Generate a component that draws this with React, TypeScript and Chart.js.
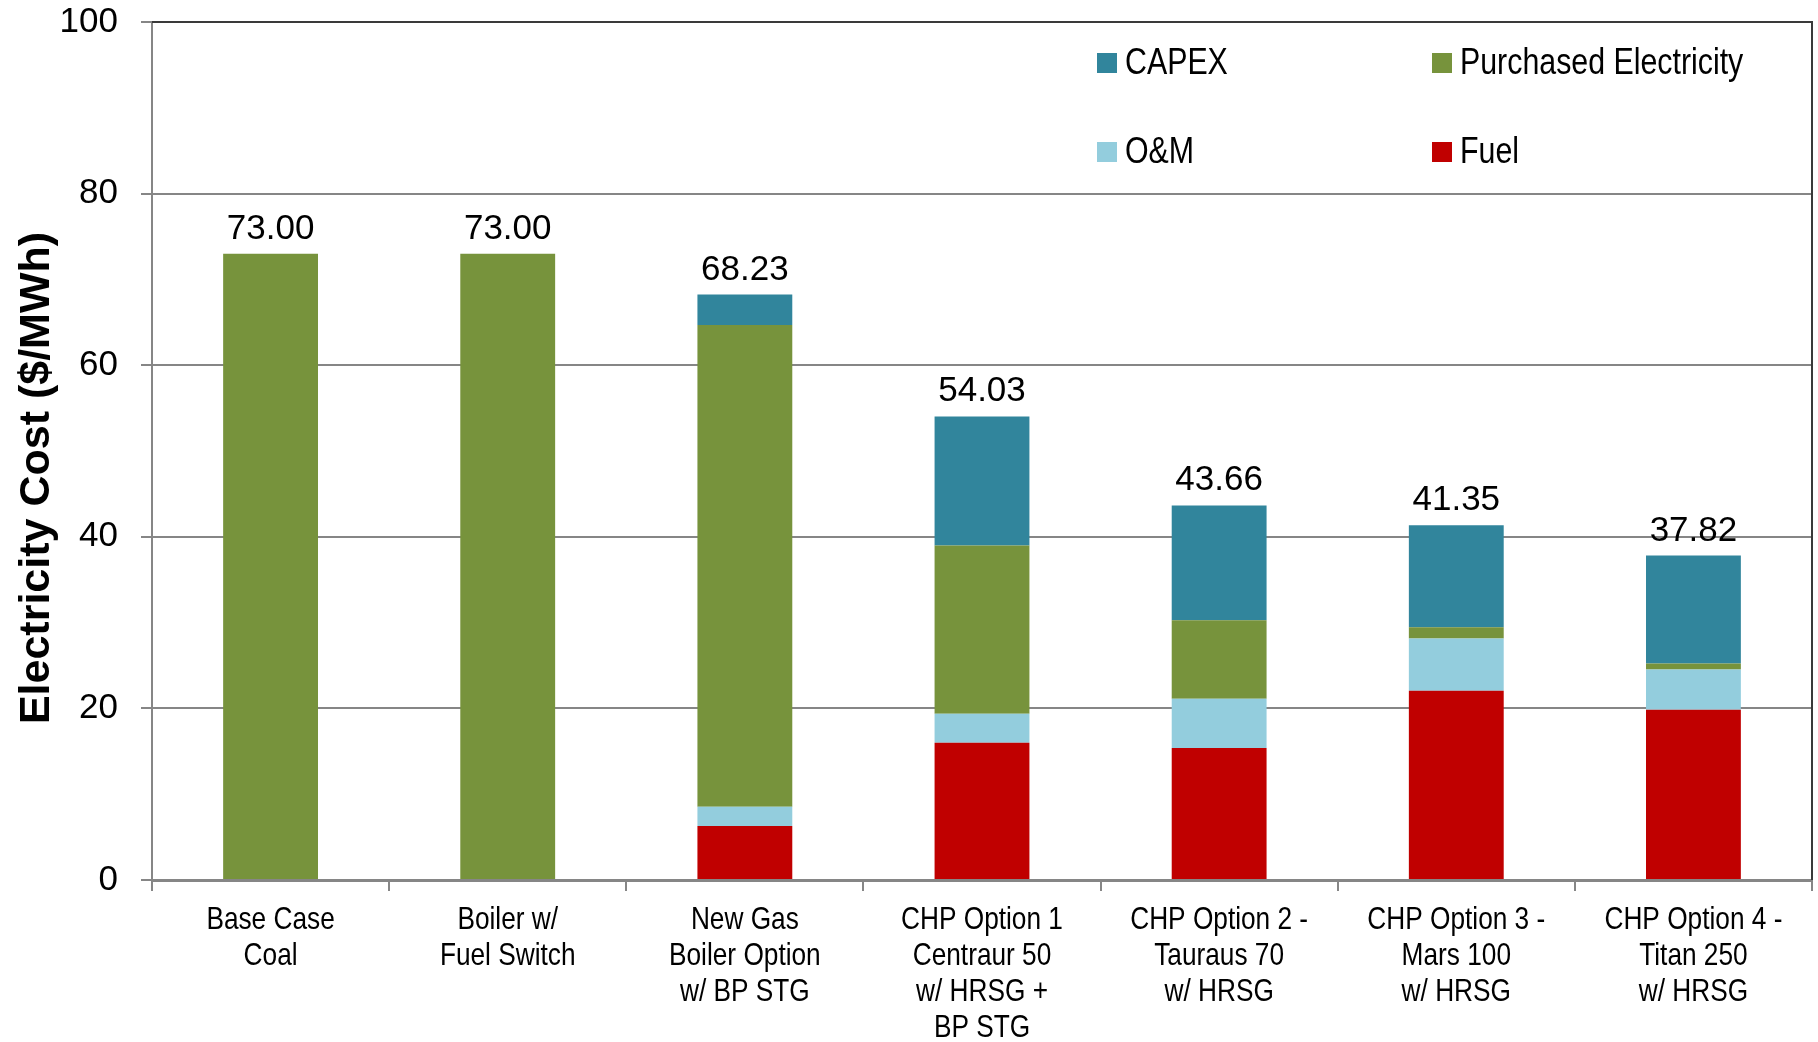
import React, { useEffect, useRef } from 'react';
import { Chart, registerables } from 'chart.js';

Chart.register(...registerables);

const categories: string[][] = [
  ['Base Case', 'Coal'],
  ['Boiler w/', 'Fuel Switch'],
  ['New Gas', 'Boiler Option', 'w/ BP STG'],
  ['CHP Option 1', 'Centraur 50', 'w/ HRSG +', 'BP STG'],
  ['CHP Option 2 -', 'Tauraus 70', 'w/ HRSG'],
  ['CHP Option 3 -', 'Mars 100', 'w/ HRSG'],
  ['CHP Option 4 -', 'Titan 250', 'w/ HRSG'],
];

const fuel = [0, 0, 6.3, 16.0, 15.39, 22.07, 19.84];
const om = [0, 0, 2.23, 3.39, 5.74, 6.09, 4.69];
const purchased = [73, 73, 56.15, 19.59, 9.14, 1.29, 0.7];
const capex = [0, 0, 3.55, 15.05, 13.39, 11.9, 12.59];
const totals = [73.0, 73.0, 68.23, 54.03, 43.66, 41.35, 37.82];

const legendOrder = ['CAPEX', 'Purchased Electricity', 'O&M', 'Fuel'];

const SANS = '"Liberation Sans", Arial, sans-serif';
const NARROW_SCALE = 0.82;
const GRID = '#868686';

export default function App() {
  const ref = useRef<HTMLCanvasElement | null>(null);

  useEffect(() => {
    document.body.style.margin = '0';
    document.body.style.overflow = 'hidden';
    const canvas = ref.current;
    if (!canvas) return;

    const narrowText = (ctx: any, text: string, x: number, y: number) => {
      ctx.save();
      ctx.translate(x, y);
      ctx.scale(NARROW_SCALE, 1);
      ctx.fillText(text, 0, 0);
      ctx.restore();
    };

    const extras = {
      id: 'extras',
      afterDraw(chart: any) {
        const { ctx, chartArea } = chart;
        const xs = chart.scales.x;
        const ys = chart.scales.y;
        ctx.save();
        // dark top and right frame
        ctx.strokeStyle = '#3a3a3a';
        ctx.lineWidth = 2;
        ctx.beginPath();
        ctx.moveTo(chartArea.left, chartArea.top);
        ctx.lineTo(chartArea.right, chartArea.top);
        ctx.lineTo(chartArea.right, chartArea.bottom);
        ctx.stroke();

        // total labels
        ctx.fillStyle = '#000';
        ctx.font = `35px ${SANS}`;
        ctx.textAlign = 'center';
        ctx.textBaseline = 'alphabetic';
        totals.forEach((t, i) => {
          const x = xs.getPixelForValue(i);
          const y = ys.getPixelForValue(t) - 15;
          ctx.fillText(t.toFixed(2), x, y);
        });

        // category labels (narrow)
        ctx.font = `32px ${SANS}`;
        ctx.textAlign = 'center';
        ctx.textBaseline = 'alphabetic';
        categories.forEach((lines, i) => {
          const x = xs.getPixelForValue(i);
          lines.forEach((line, j) => {
            narrowText(ctx, line, x, chartArea.bottom + 49 + 36 * j);
          });
        });

        // legend (2 x 2)
        const colX = [1097, 1432];
        const rowY = [63, 152];
        ctx.font = `37px ${SANS}`;
        ctx.textAlign = 'left';
        ctx.textBaseline = 'middle';
        legendOrder.forEach((name, k) => {
          const ds = chart.data.datasets.find((d: any) => d.label === name);
          const cx = colX[k % 2];
          const cy = rowY[Math.floor(k / 2)];
          ctx.fillStyle = ds.backgroundColor;
          ctx.fillRect(cx, cy - 10, 20, 20);
          ctx.fillStyle = '#000';
          narrowText(ctx, name, cx + 28, cy + 1);
        });

        // y axis title
        ctx.save();
        ctx.translate(49, 478);
        ctx.rotate(-Math.PI / 2);
        ctx.font = `bold 43px ${SANS}`;
        ctx.textAlign = 'center';
        ctx.textBaseline = 'alphabetic';
        ctx.fillStyle = '#000';
        ctx.fillText('Electricity Cost ($/MWh)', 0, 0);
        ctx.restore();

        ctx.restore();
      },
    };

    const chart = new Chart(canvas, {
      type: 'bar',
      data: {
        labels: categories.map((c) => c.join(' ')),
        datasets: [
          { label: 'Fuel', data: fuel, backgroundColor: '#C00000' },
          { label: 'O&M', data: om, backgroundColor: '#93CDDD' },
          { label: 'Purchased Electricity', data: purchased, backgroundColor: '#77933C' },
          { label: 'CAPEX', data: capex, backgroundColor: '#31859C' },
        ],
      },
      options: {
        responsive: false,
        animation: false,
        layout: { padding: { top: 22, right: 6, left: 0, bottom: 0 } },
        plugins: {
          legend: { display: false },
          tooltip: { enabled: false },
          title: { display: false },
        },
        datasets: {
          bar: { categoryPercentage: 1, barPercentage: 0.4, borderWidth: 0 },
        },
        scales: {
          x: {
            stacked: true,
            afterFit: (s: any) => {
              s.height = 162;
            },
            grid: {
              drawOnChartArea: false,
              drawTicks: true,
              tickLength: 11,
              color: GRID,
              lineWidth: 2,
            },
            border: { color: GRID, width: 3 },
            ticks: { display: false, autoSkip: false, maxRotation: 0 },
          },
          y: {
            stacked: true,
            min: 0,
            max: 100,
            afterFit: (s: any) => {
              s.width = 152;
              s.paddingTop = 0;
              s.paddingBottom = 0;
            },
            grid: { color: GRID, lineWidth: 2, tickLength: 11 },
            border: { color: GRID, width: 2 },
            ticks: {
              stepSize: 20,
              color: '#000',
              font: { family: SANS, size: 35 },
              padding: 23,
            },
          },
        },
      },
      plugins: [extras],
    });

    return () => chart.destroy();
  }, []);

  return (
    <div style={{ width: 1818, height: 1042, background: '#fff' }}>
      <canvas ref={ref} width={1818} height={1042} style={{ display: 'block' }} />
    </div>
  );
}
